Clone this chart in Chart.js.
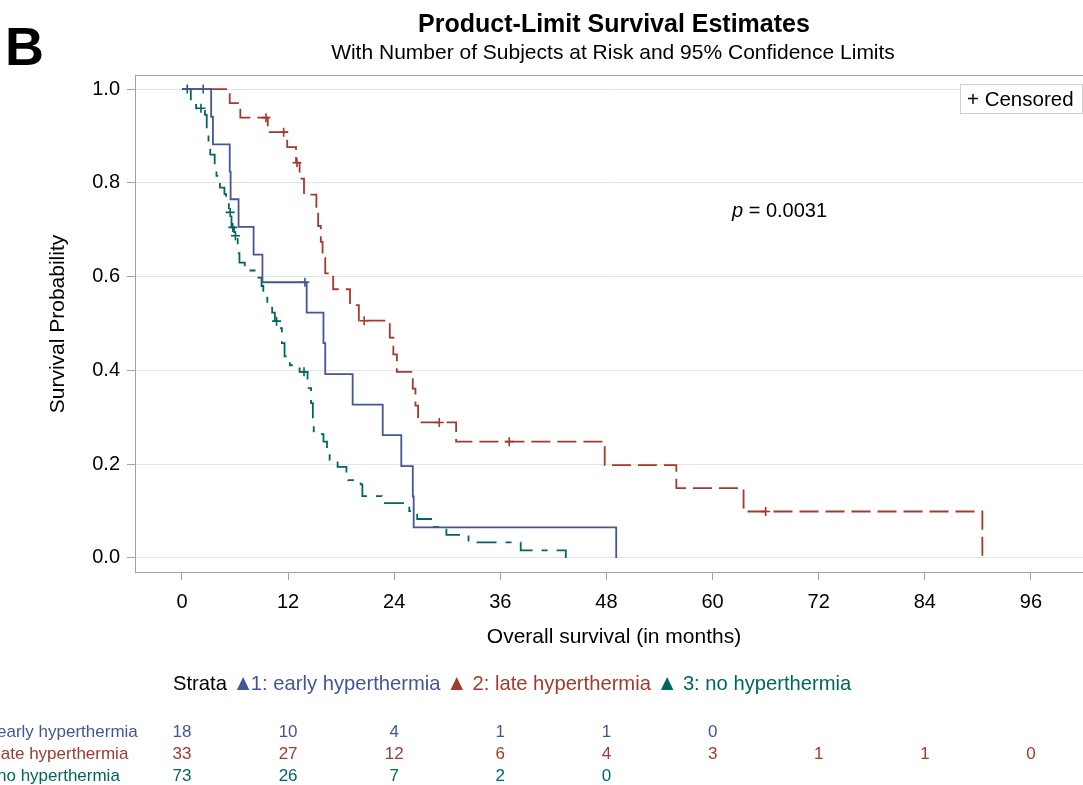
<!DOCTYPE html>
<html>
<head>
<meta charset="utf-8">
<title>Product-Limit Survival Estimates</title>
<script src="https://cdn.jsdelivr.net/npm/chart.js@4.4.1/dist/chart.umd.min.js"></script>
<style>
  html, body { margin: 0; padding: 0; background: #fff; }
  #wrap { width: 1083px; height: 785px; position: relative; }
</style>
</head>
<body>
<div id="wrap"><canvas id="kmChart" width="1083" height="785"></canvas></div>
<script>
const xTicks = [0, 12, 24, 36, 48, 60, 72, 84, 96];
const yTicks = [0, 0.2, 0.4, 0.6, 0.8, 1.0];

// 1: early hyperthermia - step times (months) and survival after each step
const earlyTimes = [0, 3.3, 3.5, 5.4, 5.5, 6.4, 8.1, 9.1, 14.1, 16.0, 16.2, 19.3, 22.7, 24.8, 26.1, 26.2, 49.1];
const earlySurv = [1, 0.941, 0.882, 0.824, 0.765, 0.706, 0.647, 0.588, 0.523, 0.458, 0.392, 0.327, 0.262, 0.196, 0.131, 0.065, 0];
const earlyCensored = [2.4, 13.9];

// 2: late hyperthermia
const lateTimes = [0, 5.4, 6.6, 9.7, 11.9, 12.9, 13.3, 13.8, 15.2, 15.4, 15.7, 15.9, 16.2, 17.1, 19.0, 20.0, 23.5, 23.9, 24.3, 26.1, 26.4, 26.7, 31.0, 47.8, 55.9, 63.5, 90.5];
const lateSurv = [1, 0.970, 0.939, 0.908, 0.876, 0.843, 0.809, 0.775, 0.741, 0.708, 0.674, 0.640, 0.607, 0.573, 0.539, 0.506, 0.470, 0.434, 0.397, 0.361, 0.325, 0.289, 0.248, 0.198, 0.149, 0.099, 0];
const lateCensored = [9.5, 11.5, 13.0, 20.6, 29.1, 37.0, 66.0];

// 3: no hyperthermia
const noTimes = [0, 1.0, 1.6, 2.6, 2.8, 3.0, 3.2, 3.7, 3.9, 4.1, 4.3, 4.8, 5.0, 5.3, 5.6, 5.9, 6.3, 6.5, 7.1, 8.4, 9.0, 9.2, 9.65, 10.2, 10.5, 11.0, 11.3, 11.6, 12.2, 13.3, 14.2, 14.6, 14.8, 14.9, 16.0, 16.4, 16.7, 17.6, 18.6, 18.8, 20.2, 20.4, 22.6, 25.7, 26.6, 28.3, 29.9, 32.4, 38.3, 43.4];
const noSurv = [1, 0.973, 0.959, 0.945, 0.904, 0.877, 0.860, 0.834, 0.815, 0.805, 0.790, 0.776, 0.762, 0.737, 0.705, 0.687, 0.650, 0.630, 0.613, 0.598, 0.580, 0.563, 0.543, 0.523, 0.505, 0.490, 0.458, 0.430, 0.411, 0.397, 0.362, 0.330, 0.287, 0.264, 0.248, 0.223, 0.209, 0.194, 0.184, 0.166, 0.157, 0.132, 0.117, 0.100, 0.083, 0.066, 0.049, 0.033, 0.016, 0];
const noCensored = [0.6, 2.15, 5.45, 5.75, 6.05, 10.7, 13.8];

// number of subjects at risk at each x tick
const earlyAtRisk = [18, 10, 4, 1, 1, 0];
const lateAtRisk = [33, 27, 12, 6, 4, 3, 1, 1, 0];
const noAtRisk = [73, 26, 7, 2, 0];

const strataNames = ['early hyperthermia', 'late hyperthermia', 'no hyperthermia'];
const strataLegend = ['1: early hyperthermia', '2: late hyperthermia', '3: no hyperthermia'];

const colors = {
  early: '#445694',
  late: '#A23A2E',
  none: '#01665E',
  frame: '#a0a0a0',
  grid: '#e4e4e4'
};
const font = "'Liberation Sans', Arial, sans-serif";

function toPoints(times, surv) {
  return times.map((t, i) => ({ x: t, y: surv[i] }));
}

function survivalAt(times, surv, t) {
  let s = surv[0];
  times.forEach((time, i) => {
    if (time <= t) s = surv[i];
  });
  return s;
}

function censorPoints(cens, times, surv) {
  return cens.map((t) => ({ x: t, y: survivalAt(times, surv, t) }));
}

function curve(label, times, surv, color, dash) {
  return {
    label,
    data: toPoints(times, surv),
    showLine: true,
    stepped: true,
    borderColor: color,
    borderWidth: 1.8,
    borderDash: dash,
    pointRadius: 0,
    fill: false
  };
}

function censorMarks(label, cens, times, surv, color) {
  return {
    label,
    data: censorPoints(cens, times, surv),
    showLine: false,
    pointStyle: 'cross',
    pointRadius: 4.5,
    borderColor: color,
    borderWidth: 1.6
  };
}

const decorations = {
  id: 'decorations',
  afterDraw(chart) {
    const { ctx, chartArea: area } = chart;
    const xScale = chart.scales.x;
    ctx.save();

    // frame top
    ctx.strokeStyle = colors.frame;
    ctx.lineWidth = 1;
    ctx.beginPath();
    ctx.moveTo(area.left, area.top + 0.5);
    ctx.lineTo(area.right, area.top + 0.5);
    ctx.stroke();

    ctx.fillStyle = '#000';
    ctx.textBaseline = 'alphabetic';

    ctx.font = `bold 54px ${font}`;
    ctx.textAlign = 'left';
    ctx.fillText('B', 5, 65);

    ctx.textAlign = 'center';
    ctx.font = `bold 25px ${font}`;
    ctx.fillText('Product-Limit Survival Estimates', 614, 32);
    ctx.font = `21px ${font}`;
    ctx.fillText('With Number of Subjects at Risk and 95% Confidence Limits', 613, 59);

    ctx.fillText('Overall survival (in months)', 614, 643);

    ctx.save();
    ctx.translate(64, 324);
    ctx.rotate(-Math.PI / 2);
    ctx.fillText('Survival Probability', 0, 0);
    ctx.restore();

    // censored legend box
    ctx.fillStyle = '#fff';
    ctx.fillRect(960, 84, 122, 29);
    ctx.strokeStyle = '#cfcfcf';
    ctx.strokeRect(960.5, 84.5, 122, 29);
    ctx.fillStyle = '#000';
    ctx.font = `20.5px ${font}`;
    ctx.textAlign = 'left';
    ctx.fillText('+ Censored', 967, 106);

    ctx.font = `italic 20px ${font}`;
    ctx.fillText('p', 732, 217);
    const pw = ctx.measureText('p').width;
    ctx.font = `20px ${font}`;
    ctx.fillText(' = 0.0031', 732 + pw, 217);

    // strata legend
    const strataColors = [colors.early, colors.late, colors.none];
    let x = 173;
    const ly = 690;
    ctx.font = `20.2px ${font}`;
    ctx.fillStyle = '#000';
    ctx.fillText('Strata', x, ly);
    x += ctx.measureText('Strata').width + 10;
    strataLegend.forEach((text, i) => {
      ctx.fillStyle = strataColors[i];
      ctx.beginPath();
      ctx.moveTo(x, ly);
      ctx.lineTo(x + 12.5, ly);
      ctx.lineTo(x + 6.25, ly - 13);
      ctx.closePath();
      ctx.fill();
      x += i === 0 ? 14 : 22;
      ctx.fillText(text, x, ly);
      x += ctx.measureText(text).width + 10;
    });

    // number at risk table
    const rows = [earlyAtRisk, lateAtRisk, noAtRisk];
    ctx.font = `17px ${font}`;
    rows.forEach((vals, r) => {
      const y = 737 + r * 22;
      ctx.fillStyle = strataColors[r];
      ctx.textAlign = 'left';
      ctx.fillText(strataNames[r], -3, y);
      ctx.textAlign = 'center';
      vals.forEach((v, i) => {
        ctx.fillText(String(v), xScale.getPixelForValue(xTicks[i]), y);
      });
    });

    ctx.restore();
  }
};

new Chart(document.getElementById('kmChart'), {
  type: 'scatter',
  data: {
    datasets: [
      curve('1: early hyperthermia', earlyTimes, earlySurv, colors.early, []),
      curve('2: late hyperthermia', lateTimes, lateSurv, colors.late, [19, 7]),
      curve('3: no hyperthermia', noTimes, noSurv, colors.none, [20, 9, 6, 9]),
      censorMarks('early censored', earlyCensored, earlyTimes, earlySurv, colors.early),
      censorMarks('late censored', lateCensored, lateTimes, lateSurv, colors.late),
      censorMarks('none censored', noCensored, noTimes, noSurv, colors.none)
    ]
  },
  options: {
    responsive: false,
    animation: false,
    devicePixelRatio: 1,
    layout: { autoPadding: false, padding: { left: 0, top: 75, right: 0, bottom: 0 } },
    plugins: {
      legend: { display: false },
      tooltip: { enabled: false }
    },
    scales: {
      x: {
        type: 'linear',
        min: -5.31,
        max: 101.88,
        afterBuildTicks: (scale) => { scale.ticks = xTicks.map((v) => ({ value: v })); },
        afterFit: (scale) => { scale.height = 213; },
        grid: { drawOnChartArea: false, drawTicks: true, tickLength: 8, tickColor: colors.frame, color: colors.frame },
        border: { display: true, color: colors.frame, width: 1 },
        ticks: { color: '#000', font: { family: font, size: 20 }, padding: 10, maxRotation: 0, autoSkip: false }
      },
      y: {
        min: -0.03,
        max: 1.03,
        afterBuildTicks: (scale) => { scale.ticks = yTicks.map((v) => ({ value: v })); },
        afterFit: (scale) => { scale.width = 135; },
        grid: { color: colors.grid, tickColor: colors.frame, tickLength: 8 },
        border: { display: true, color: colors.frame, width: 1 },
        ticks: { color: '#000', font: { family: font, size: 20 }, padding: 7, callback: (v) => v.toFixed(1) }
      }
    }
  },
  plugins: [decorations]
});
</script>
</body>
</html>
